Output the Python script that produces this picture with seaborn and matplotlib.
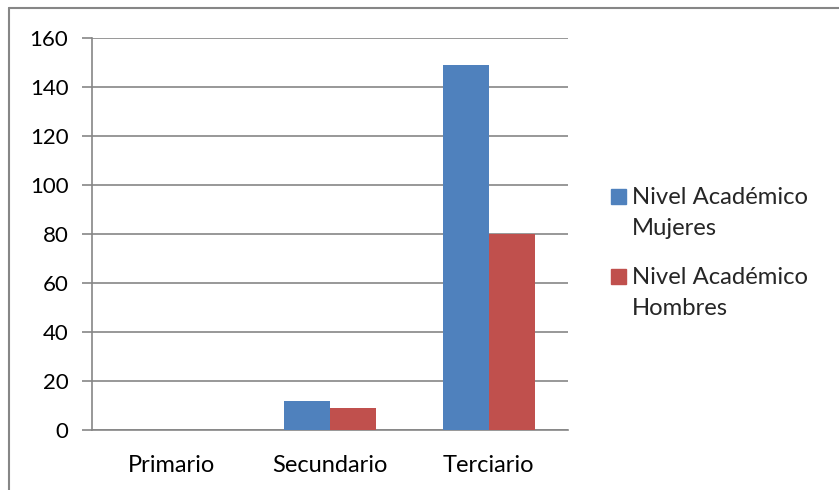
import numpy as np
import pandas as pd
import matplotlib.pyplot as plt
import seaborn as sns
from matplotlib.lines import Line2D
from matplotlib.patches import Rectangle

niveles = ['Primario', 'Secundario', 'Terciario']
mujeres = [0, 12, 149]
hombres = [0, 9, 80]
series = ['Nivel Académico\nMujeres', 'Nivel Académico\nHombres']
colores = ['#4F81BD', '#C0504D']

df = pd.DataFrame({
    'nivel': niveles * 2,
    'valor': mujeres + hombres,
    'serie': [series[0]] * 3 + [series[1]] * 3,
})

sns.set_style('white')
plt.rcParams['font.family'] = ['Lato', 'DejaVu Sans']

W, H = 839, 490
fig = plt.figure(figsize=(W / 100, H / 100), dpi=100)
ax = fig.add_axes([92 / W, 1 - 430 / H, (568 - 92) / W, (430 - 38) / H])

sns.barplot(data=df, x='nivel', y='valor', hue='serie', order=niveles,
            hue_order=series, palette=colores,
            width=0.58, saturation=1, linewidth=0, ax=ax, zorder=3, legend=False)

grey = '#868686'
ax.set_ylim(0, 160)
ax.set_xlim(-0.5, 2.5)
ax.set_yticks(range(0, 161, 20))
ax.yaxis.grid(True, color=grey, linewidth=1.2, zorder=0)
ax.set_axisbelow(True)
ax.set_xlabel('')
ax.set_ylabel('')
for s in ['top', 'right']:
    ax.spines[s].set_visible(False)
for s in ['left', 'bottom']:
    ax.spines[s].set_color(grey)
    ax.spines[s].set_linewidth(1.2)

ax.set_xticks([-0.5, 0.5, 1.5, 2.5], minor=True)
ax.tick_params(axis='x', which='major', length=0, pad=18, labelsize=17, colors='black')
ax.tick_params(axis='x', which='minor', length=7, width=1.2, color=grey, direction='out')
ax.tick_params(axis='y', length=7, width=1.2, color=grey, direction='out', pad=10,
               labelsize=16, labelcolor='black', left=True)

# legend drawn by hand so the square lines up with the first text line
def fx(px):
    return px / W

def fy(py):
    return 1 - py / H

for i, (lab, col) in enumerate(zip(series, colores)):
    off = i * 80
    fig.add_artist(Rectangle((fx(611), fy(204 + off)), 15 / W, 15 / H,
                             transform=fig.transFigure, color=col))
    for j, line in enumerate(lab.split('\n')):
        fig.text(fx(632), fy(204 + off + j * 31), line, fontsize=17.2,
                 va='baseline', ha='left')

fig.add_artist(Line2D([9 / W, 1], [1 - 8 / H, 1 - 8 / H], color=grey, linewidth=1.5))
fig.add_artist(Line2D([9 / W, 9 / W], [0, 1 - 8 / H], color=grey, linewidth=1.5))

fig.savefig('out.png', dpi=100)
